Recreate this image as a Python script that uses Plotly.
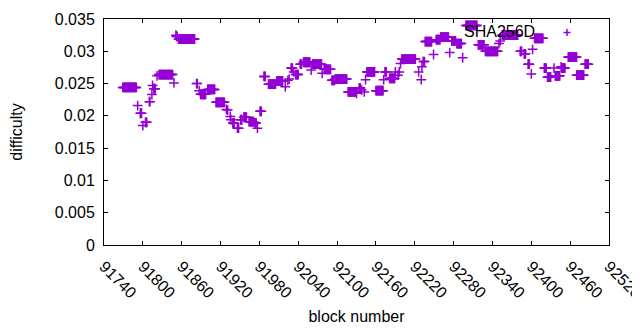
import plotly.graph_objects as go

# Runs of consecutive blocks sharing one difficulty value (start block, end block, value)
run_start = [91769, 91792, 91796, 91800, 91804, 91810, 91814, 91815, 91817, 91822,
             91825, 91848, 91851, 91852, 91855, 91883, 91887, 91889, 91900, 91913,
             91929, 91931, 91935, 91936, 91939, 91946, 91951, 91956, 91964, 91973,
             91977, 91981, 91987, 91994, 92007, 92020, 92024, 92026, 92029, 92033,
             92036, 92043, 92048, 92060, 92062, 92077, 92080, 92092, 92097, 92117,
             92130, 92134, 92138, 92142, 92144, 92146, 92160, 92172, 92174, 92181,
             92190, 92194, 92196, 92198, 92200, 92226, 92230, 92231, 92233, 92236,
             92249, 92253, 92260, 92274, 92277, 92285, 92294, 92299, 92318, 92329,
             92350, 92352, 92355, 92383, 92389, 92395, 92400, 92402, 92405, 92420,
             92425, 92435, 92437, 92446, 92447, 92457, 92470, 92483]
run_end = [91790, 91792, 91798, 91800, 91806, 91811, 91814, 91815, 91819, 91822,
           91846, 91848, 91851, 91853, 91880, 91884, 91887, 91897, 91911, 91926,
           91929, 91931, 91935, 91936, 91941, 91948, 91953, 91960, 91971, 91975,
           91977, 91983, 91989, 92005, 92016, 92020, 92024, 92026, 92031, 92033,
           92040, 92045, 92058, 92060, 92076, 92077, 92090, 92096, 92115, 92129,
           92130, 92136, 92138, 92142, 92144, 92158, 92171, 92172, 92176, 92189,
           92190, 92194, 92196, 92198, 92221, 92226, 92230, 92231, 92235, 92246,
           92249, 92259, 92272, 92274, 92283, 92292, 92294, 92316, 92327, 92348,
           92350, 92352, 92379, 92385, 92391, 92397, 92400, 92402, 92418, 92423,
           92430, 92435, 92444, 92446, 92452, 92470, 92481, 92488]
run_value = [0.0244, 0.0216, 0.0204, 0.0185, 0.0190, 0.0222, 0.0233, 0.0247, 0.0242, 0.0262,
             0.0264, 0.0251, 0.0325, 0.0323, 0.0319, 0.0250, 0.0239, 0.02335, 0.0241, 0.0221,
             0.0210, 0.0209, 0.0199, 0.0194, 0.0189, 0.0181, 0.0194, 0.0198, 0.0191, 0.0189,
             0.0181, 0.0207, 0.0261, 0.0249, 0.0254, 0.0245, 0.0255, 0.0257, 0.0274, 0.0268,
             0.0264, 0.0280, 0.0283, 0.0271, 0.0280, 0.0266, 0.0272, 0.0255, 0.0257, 0.0237,
             0.0235, 0.0243, 0.0240, 0.0237, 0.0256, 0.0268, 0.0239, 0.0256, 0.0268, 0.0258,
             0.0268, 0.0263, 0.0268, 0.0281, 0.0288, 0.0268, 0.0256, 0.0276, 0.0284, 0.0315,
             0.0295, 0.0318, 0.0322, 0.0298, 0.0316, 0.0312, 0.0290, 0.0340, 0.0310, 0.0300,
             0.0312, 0.0316, 0.0325, 0.0300, 0.0296, 0.0280, 0.0265, 0.0303, 0.0320, 0.0274,
             0.0260, 0.0274, 0.0262, 0.0276, 0.0274, 0.0291, 0.0263, 0.0280]

x_ticks = [91740, 91800, 91860, 91920, 91980, 92040, 92100, 92160, 92220, 92280,
           92340, 92400, 92460, 92520]
x_tick_labels = [str(v) for v in x_ticks]
y_ticks = [0, 0.005, 0.01, 0.015, 0.02, 0.025, 0.03, 0.035]
y_tick_labels = ["0", "0.005", "0.01", "0.015", "0.02", "0.025", "0.03", "0.035"]

series_name = "SHA256D"
color = "#9400D3"

blocks, values = [], []
for s, e, v in zip(run_start, run_end, run_value):
    for b in range(s, e + 1):
        blocks.append(b)
        values.append(v)

FONT = "Liberation Sans, Arial, sans-serif"

fig = go.Figure()
fig.add_trace(go.Scatter(
    x=blocks, y=values, mode="markers", name=series_name, showlegend=False,
    cliponaxis=False,
    marker=dict(symbol="cross-thin", size=7, color=color,
                line=dict(color=color, width=1.5)),
))

# The page body has an 8px default margin, so the figure is 8px smaller
# and its left/top margins 8px smaller to land the plot box where gnuplot has it.
FIG_W, FIG_H = 632, 322
ML, MR, MT, MB = 96, 31, 11, 85
W = FIG_W - ML - MR
H = FIG_H - MT - MB
# key position in page pixels -> paper coords
L0, T0 = 8 + ML, 8 + MT
px = lambda v: (v - L0) / W
py = lambda v: 1 - (v - T0) / H
kx, ky = 567, 32.5
fig.add_annotation(text=series_name, xref="paper", yref="paper",
                   x=px(537), y=py(32), xanchor="right", yanchor="middle",
                   showarrow=False, font=dict(family=FONT, size=16, color="black"))
fig.add_shape(type="path", xref="paper", yref="paper",
              path=f"M {px(kx-3.5)},{py(ky)} L {px(kx+3.5)},{py(ky)} M {px(kx)},{py(ky-3.5)} L {px(kx)},{py(ky+3.5)}",
              line=dict(color=color, width=1.5))

axis_common = dict(showline=True, linecolor="black", linewidth=1, mirror="ticks",
                   ticks="inside", ticklen=4, tickcolor="black", showgrid=False,
                   zeroline=False, automargin=False,
                   tickfont=dict(family=FONT, size=16, color="black"))

fig.update_layout(
    width=FIG_W, height=FIG_H,
    margin=dict(l=ML, r=MR, t=MT, b=MB),
    paper_bgcolor="white", plot_bgcolor="white",
    font=dict(family=FONT, size=16, color="black"),
    xaxis=dict(range=[91740, 92520], tickvals=x_ticks, ticktext=x_tick_labels,
               tickangle=45, ticklabeloverflow="allow", ticklabelstandoff=5,
               title=dict(text="block number", standoff=10,
                          font=dict(family=FONT, size=16, color="black")),
               **axis_common),
    yaxis=dict(range=[0, 0.035], tickvals=y_ticks, ticktext=y_tick_labels,
               ticklabelstandoff=5,
               title=dict(text="difficulty", standoff=29,
                          font=dict(family=FONT, size=16, color="black")),
               **axis_common),
)

fig.write_html("out.html")
